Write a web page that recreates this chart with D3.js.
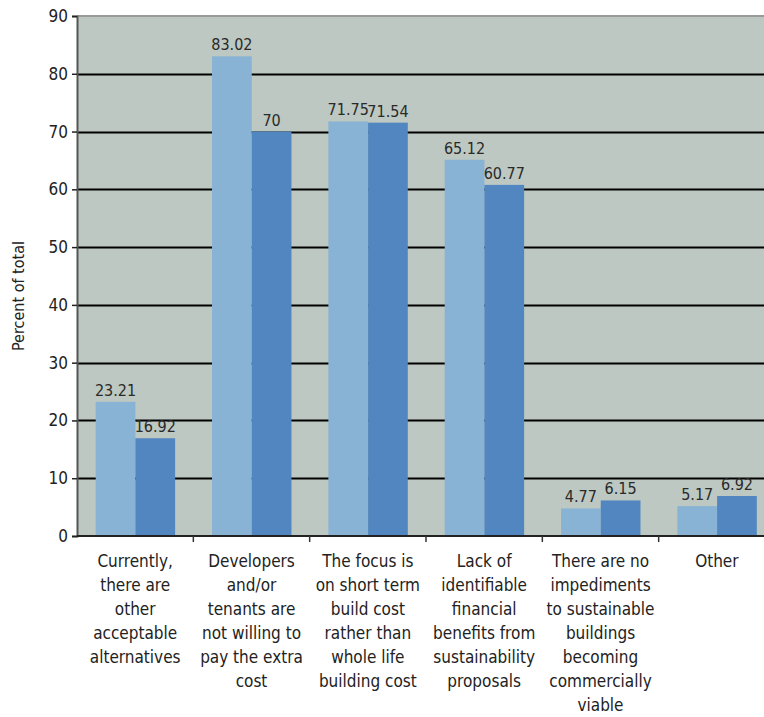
<!DOCTYPE html>
<html>
<head>
<meta charset="utf-8">
<script src="https://cdn.jsdelivr.net/npm/d3@7"></script>
<style>
  body { margin: 0; background: #fff; }
  svg { display: block; font-family: "Liberation Sans Narrow", "DejaVu Sans Condensed", sans-serif; }
</style>
</head>
<body>
<svg id="chart"></svg>
<script>
// données du graphique
const categories = [
  ["Currently,", "there are", "other", "acceptable", "alternatives"],
  ["Developers", "and/or", "tenants are", "not willing to", "pay the extra", "cost"],
  ["The focus is", "on short term", "build cost", "rather than", "whole life", "building cost"],
  ["Lack of", "identifiable", "financial", "benefits from", "sustainability", "proposals"],
  ["There are no", "impediments", "to sustainable", "buildings", "becoming", "commercially", "viable"],
  ["Other"]
];
const serieA = [23.21, 83.02, 71.75, 65.12, 4.77, 5.17];
const serieB = [16.92, 70, 71.54, 60.77, 6.15, 6.92];
const yTicks = [0, 10, 20, 30, 40, 50, 60, 70, 80, 90];

const WIDTH = 764, HEIGHT = 717;
const margin = {top: 16, bottom: 181, left: 77};
// la zone du graphique dépasse un peu le bord droit de l'image
const plotW = 698;
const innerH = HEIGHT - margin.top - margin.bottom;

const svg = d3.select('#chart').attr('width', WIDTH).attr('height', HEIGHT);
const g = svg.append('g').attr('transform', 'translate(' + margin.left + ',' + margin.top + ')');

const x = d3.scaleBand().domain(d3.range(categories.length)).range([0, plotW]);
const x1 = d3.scaleBand().domain([0, 1]).range([18.7, x.bandwidth() - 18.2]);
const y = d3.scaleLinear().domain([0, 90]).range([innerH, 0]);

// fond
g.append('rect').attr('width', plotW).attr('height', innerH).attr('fill', '#bcc8c1');
g.append('line').attr('x1', 0).attr('x2', plotW).attr('y1', 0).attr('y2', 0)
  .attr('stroke', '#9a9a9a').attr('stroke-width', 2);

// lignes de grille
g.selectAll('.grid').data(yTicks.filter(d => d > 0 && d < 90)).enter()
  .append('line')
  .attr('x1', 0).attr('x2', plotW)
  .attr('y1', d => Math.round(y(d)) + 0.5).attr('y2', d => Math.round(y(d)) + 0.5)
  .attr('stroke', '#000').attr('stroke-width', 2);

// barres
const colors = ['#88b3d5', '#5186c0'];
const series = [serieA, serieB];
const groups = g.selectAll('.grp').data(categories).enter().append('g')
  .attr('transform', (d, i) => 'translate(' + x(i) + ',0)');

series.forEach((s, k) => {
  groups.append('rect')
    .attr('x', x1(k))
    .attr('width', x1.bandwidth())
    .attr('y', (d, i) => y(s[i]))
    .attr('height', (d, i) => innerH - y(s[i]))
    .attr('fill', colors[k]);
  groups.append('text')
    .attr('x', x1(k) + x1.bandwidth() / 2)
    .attr('y', (d, i) => y(s[i]) - 6)
    .attr('text-anchor', 'middle')
    .style('font-size', '16px')
    .attr('fill', '#2a2a2a')
    .text((d, i) => s[i]);
});

// axe Y
const yAxis = g.append('g').call(d3.axisLeft(y).tickValues(yTicks).tickSize(5).tickPadding(4));
yAxis.select('.domain').attr('stroke', '#555').attr('stroke-width', 2);
yAxis.selectAll('.tick line').attr('stroke', '#222').attr('stroke-width', 1.5);
yAxis.selectAll('text').style('font-size', '17px').attr('fill', '#222')
  .style('font-family', '"DejaVu Sans Condensed", "Liberation Sans Narrow", sans-serif');

// axe X
g.append('line').attr('x1', 0).attr('x2', plotW).attr('y1', innerH).attr('y2', innerH)
  .attr('stroke', '#222').attr('stroke-width', 2);
g.selectAll('.xtick').data(d3.range(1, categories.length)).enter().append('line')
  .attr('x1', d => x(d)).attr('x2', d => x(d))
  .attr('y1', innerH).attr('y2', innerH + 6)
  .attr('stroke', '#333').attr('stroke-width', 1.5);

// étiquettes des catégories
const labels = g.selectAll('.xlab').data(categories).enter().append('text')
  .attr('text-anchor', 'middle')
  .attr('transform', (d, i) => 'translate(' + (x(i) + x.bandwidth() / 2) + ',' + (innerH + 31) + ')')
  .style('font-size', '17px')
  .style('font-family', '"DejaVu Sans Condensed", "Liberation Sans Narrow", sans-serif')
  .attr('fill', '#222');
labels.selectAll('tspan').data(d => d).enter().append('tspan')
  .attr('x', 0)
  .attr('dy', (d, i) => i === 0 ? 0 : 24)
  .text(d => d);

// titre de l'axe Y
svg.append('text')
  .attr('transform', 'translate(24,' + (margin.top + innerH / 2 + 20) + ') rotate(-90)')
  .attr('text-anchor', 'middle')
  .style('font-size', '16px')
  .style('font-family', '"DejaVu Sans Condensed", "Liberation Sans Narrow", sans-serif')
  .attr('fill', '#222')
  .text('Percent of total');
</script>
</body>
</html>
